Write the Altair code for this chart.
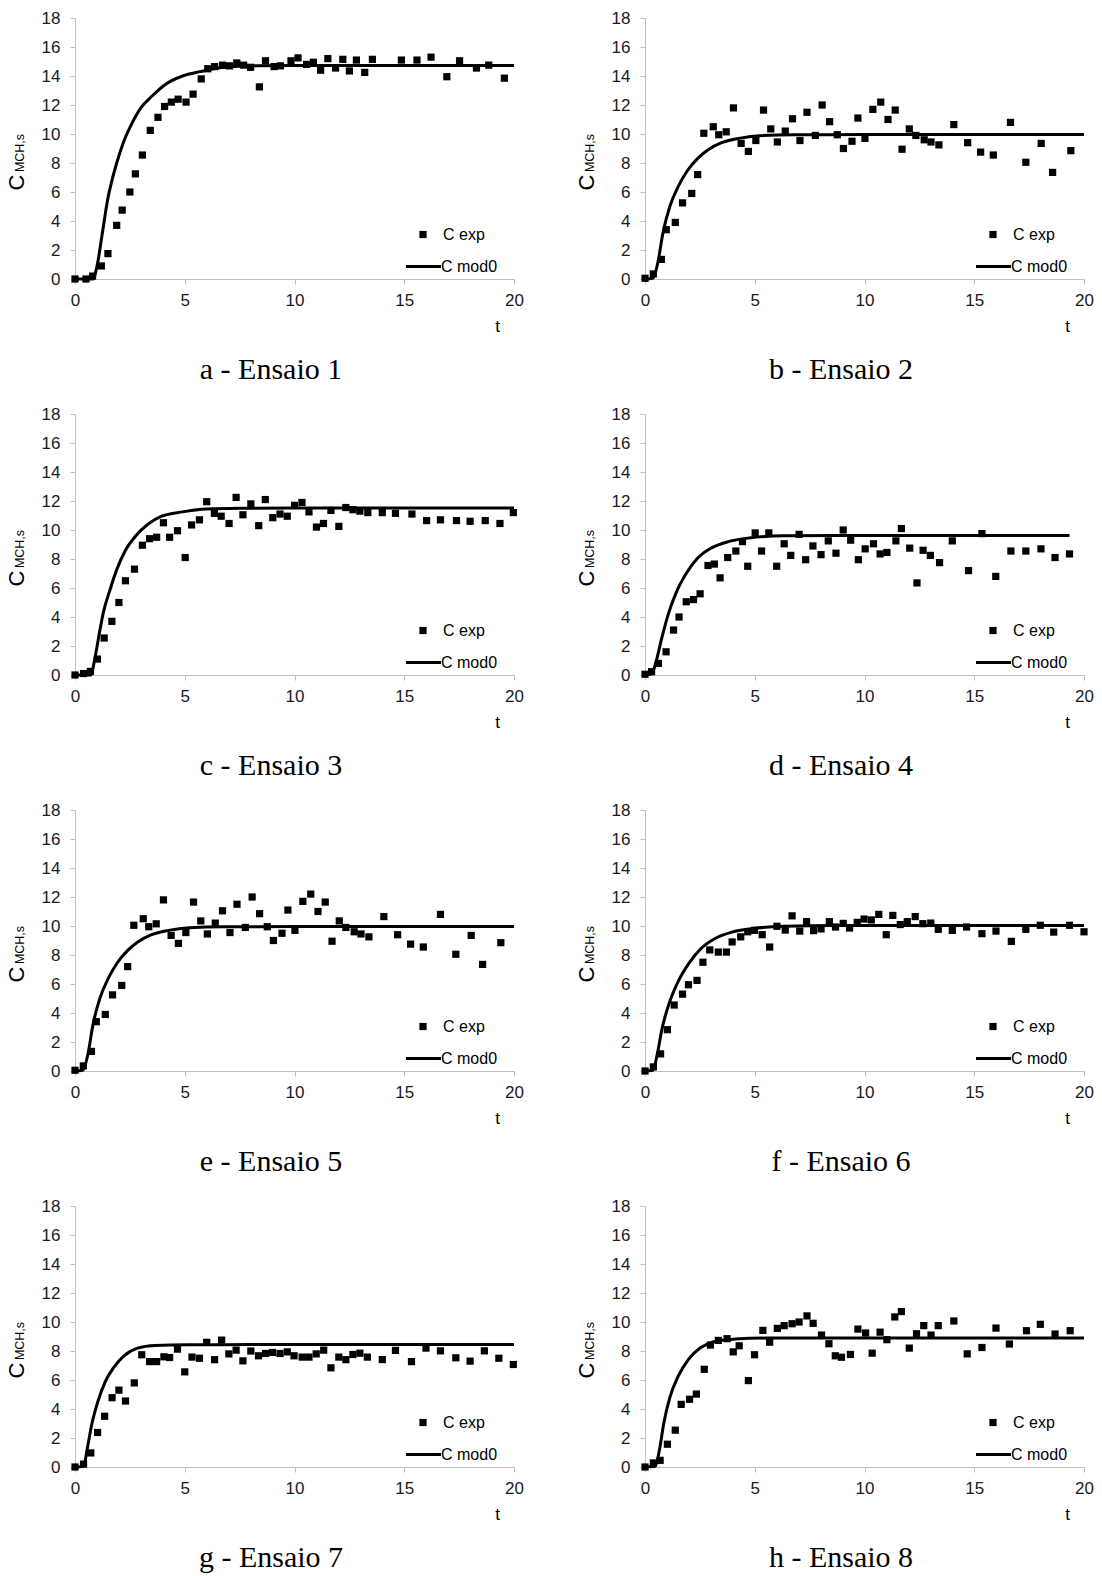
import altair as alt
import pandas as pd

# ---------------- data ----------------
# a - Ensaio 1
t_a = [0, 0.5, 0.8, 1.2, 1.5, 1.9, 2.15, 2.5, 2.75, 3.07, 3.43, 3.78, 4.08, 4.39, 4.7, 5.06, 5.38, 5.75, 6.05, 6.36,
       6.72, 7.04, 7.37, 7.68, 8.0, 8.4, 8.68, 9.07, 9.36, 9.84, 10.16, 10.55, 10.86, 11.19, 11.52, 11.87, 12.2, 12.5,
       12.82, 13.2, 13.55, 14.87, 15.58, 16.22, 16.94, 17.52, 18.29, 18.85, 19.56]
c_a = [0, 0, 0.2, 0.9, 1.75, 3.7, 4.75, 6.0, 7.25, 8.55, 10.25, 11.15, 11.9, 12.2, 12.4, 12.2, 12.75, 13.8, 14.5, 14.65,
       14.75, 14.7, 14.9, 14.75, 14.6, 13.25, 15.05, 14.65, 14.7, 15.05, 15.25, 14.8, 14.95, 14.4, 15.2, 14.55, 15.15,
       14.35, 15.1, 14.25, 15.15, 15.1, 15.1, 15.3, 13.95, 15.05, 14.55, 14.75, 13.85]
tm_a = [0, 0.82, 1.0, 1.25, 1.49, 1.7, 1.9, 2.2, 2.6, 3.0, 3.5, 4.1, 4.9, 5.7, 6.8, 8.3, 10, 20]
cm_a = [0, 0, 0.87, 3.2, 5.5, 6.9, 8.0, 9.4, 10.75, 11.8, 12.6, 13.4, 14.0, 14.3, 14.6, 14.7, 14.72, 14.72]

# b - Ensaio 2
t_b = [0, 0.38, 0.75, 0.97, 1.38, 1.71, 2.13, 2.4, 2.68, 3.11, 3.36, 3.7, 4.03, 4.38, 4.71, 5.05, 5.4, 5.73, 6.03, 6.39,
       6.72, 7.06, 7.38, 7.76, 8.07, 8.41, 8.76, 9.04, 9.43, 9.7, 10.02, 10.38, 10.74, 11.07, 11.4, 11.71, 12.04, 12.34,
       12.72, 13.03, 13.39, 14.07, 14.7, 15.29, 15.87, 16.65, 17.35, 18.05, 18.57, 19.4]
c_b = [0.05, 0.35, 1.35, 3.4, 3.9, 5.25, 5.9, 7.2, 10.05, 10.5, 9.95, 10.15, 11.8, 9.35, 8.8, 9.55, 11.65, 10.35, 9.45,
       10.2, 11.05, 9.55, 11.5, 9.9, 12.0, 10.85, 9.95, 9.0, 9.5, 11.1, 9.7, 11.7, 12.2, 11.0, 11.65, 8.95, 10.35, 9.9,
       9.6, 9.45, 9.25, 10.65, 9.4, 8.75, 8.55, 10.8, 8.05, 9.35, 7.35, 8.85]
tm_b = [0, 0.36, 0.58, 0.82, 1.13, 1.52, 1.92, 2.39, 2.86, 3.49, 4.27, 5.2, 6.8, 10, 20]
cm_b = [0, 0.05, 1.1, 3.2, 5.0, 6.4, 7.45, 8.3, 8.9, 9.4, 9.7, 9.88, 9.95, 9.96, 9.96]

# c - Ensaio 3
t_c = [0, 0.39, 0.7, 1.02, 1.33, 1.68, 2.0, 2.3, 2.71, 3.07, 3.4, 3.72, 4.03, 4.31, 4.67, 5.02, 5.31, 5.67, 6.0, 6.35,
       6.66, 7.02, 7.34, 7.65, 8.01, 8.37, 8.67, 9.01, 9.34, 9.67, 10.0, 10.34, 10.66, 11.0, 11.32, 11.66, 12.02, 12.34,
       12.66, 12.98, 13.34, 14.0, 14.6, 15.35, 16.02, 16.65, 17.38, 18.0, 18.69, 19.36, 19.97]
c_c = [0, 0.1, 0.25, 1.1, 2.55, 3.7, 5.0, 6.5, 7.3, 8.95, 9.4, 9.5, 10.5, 9.5, 9.95, 8.1, 10.35, 10.7, 11.95, 11.15,
       10.95, 10.45, 12.25, 11.05, 11.8, 10.3, 12.1, 10.85, 11.1, 10.95, 11.7, 11.9, 11.25, 10.2, 10.45, 11.35, 10.25,
       11.55, 11.4, 11.3, 11.2, 11.2, 11.15, 11.1, 10.65, 10.7, 10.65, 10.6, 10.65, 10.45, 11.2]
tm_c = [0, 0.72, 0.9, 1.1, 1.29, 1.6, 1.91, 2.3, 2.77, 3.32, 3.95, 4.89, 5.99, 7.55, 10, 20]
cm_c = [0, 0, 1.1, 2.8, 4.3, 5.9, 7.3, 8.6, 9.6, 10.4, 10.95, 11.25, 11.45, 11.5, 11.52, 11.52]

# d - Ensaio 4
t_d = [0, 0.3, 0.61, 0.96, 1.3, 1.55, 1.88, 2.21, 2.51, 2.87, 3.16, 3.42, 3.77, 4.14, 4.44, 4.68, 5.02, 5.31, 5.64, 6.0,
       6.34, 6.64, 7.02, 7.32, 7.65, 8.02, 8.35, 8.7, 9.03, 9.37, 9.72, 10.03, 10.41, 10.71, 11.02, 11.43, 11.68, 12.06,
       12.39, 12.67, 13.0, 13.42, 14.0, 14.74, 15.35, 15.98, 16.67, 17.35, 18.04, 18.68, 19.34]
c_d = [0.05, 0.23, 0.8, 1.6, 3.1, 4.0, 5.05, 5.2, 5.6, 7.55, 7.65, 6.7, 8.1, 8.55, 9.2, 7.5, 9.8, 8.55, 9.8, 7.5, 9.05,
       8.25, 9.7, 7.95, 8.9, 8.3, 9.25, 8.4, 10.0, 9.3, 7.95, 8.7, 9.05, 8.35, 8.45, 9.25, 10.1, 8.75, 6.35, 8.6, 8.25,
       7.75, 9.25, 7.2, 9.75, 6.8, 8.55, 8.55, 8.7, 8.1, 8.35]
tm_d = [0, 0.31, 0.5, 0.74, 1.05, 1.44, 1.92, 2.39, 3.01, 3.8, 4.74, 6.31, 9, 19.34]
cm_d = [0, 0.1, 0.9, 2.4, 4.15, 5.75, 7.1, 8.05, 8.75, 9.2, 9.45, 9.6, 9.62, 9.62]

# e - Ensaio 5 (same points as plotted in the reference for Ensaio 2)
t_e = [0, 0.38, 0.75, 0.97, 1.38, 1.71, 2.13, 2.4, 2.68, 3.11, 3.36, 3.7, 4.03, 4.38, 4.71, 5.05, 5.4, 5.73, 6.03, 6.39,
       6.72, 7.06, 7.38, 7.76, 8.07, 8.41, 8.76, 9.04, 9.43, 9.7, 10.02, 10.38, 10.74, 11.07, 11.4, 11.71, 12.04, 12.34,
       12.72, 13.03, 13.39, 14.07, 14.7, 15.29, 15.87, 16.65, 17.35, 18.05, 18.57, 19.4]
c_e = [0.05, 0.35, 1.35, 3.4, 3.9, 5.25, 5.9, 7.2, 10.05, 10.5, 9.95, 10.15, 11.8, 9.35, 8.8, 9.55, 11.65, 10.35, 9.45,
       10.2, 11.05, 9.55, 11.5, 9.9, 12.0, 10.85, 9.95, 9.0, 9.5, 11.1, 9.7, 11.7, 12.2, 11.0, 11.65, 8.95, 10.35, 9.9,
       9.6, 9.45, 9.25, 10.65, 9.4, 8.75, 8.55, 10.8, 8.05, 9.35, 7.35, 8.85]
tm_e = [0, 0.36, 0.58, 0.82, 1.13, 1.52, 1.92, 2.39, 2.86, 3.49, 4.27, 5.2, 6.8, 10, 20]
cm_e = [0, 0.05, 1.1, 3.2, 5.0, 6.4, 7.45, 8.3, 8.9, 9.4, 9.7, 9.88, 9.95, 9.96, 9.96]

# f - Ensaio 6
t_f = [0, 0.38, 0.71, 1.02, 1.33, 1.71, 1.98, 2.37, 2.64, 2.95, 3.34, 3.71, 3.97, 4.36, 4.68, 4.99, 5.34, 5.68, 6.01,
       6.39, 6.7, 7.05, 7.36, 7.68, 8.02, 8.4, 8.68, 9.03, 9.32, 9.67, 9.98, 10.31, 10.65, 10.99, 11.29, 11.63, 11.95,
       12.31, 12.66, 13.02, 13.36, 14.0, 14.65, 15.35, 15.99, 16.69, 17.35, 18.01, 18.62, 19.34, 20.0]
c_f = [0, 0.28, 1.18, 2.85, 4.55, 5.3, 5.95, 6.25, 7.5, 8.35, 8.2, 8.2, 8.9, 9.25, 9.6, 9.7, 9.4, 8.55, 9.98, 9.72,
       10.7, 9.65, 10.3, 9.68, 9.8, 10.3, 9.93, 10.18, 9.86, 10.25, 10.48, 10.42, 10.8, 9.4, 10.73, 10.1, 10.3, 10.65,
       10.16, 10.2, 9.77, 9.7, 9.93, 9.47, 9.65, 8.94, 9.77, 10.05, 9.58, 10.05, 9.6]
tm_f = [0, 0.36, 0.55, 0.78, 1.13, 1.52, 1.99, 2.54, 3.17, 3.96, 4.9, 6.31, 8.67, 20]
cm_f = [0, 0.05, 1.1, 2.95, 4.8, 6.2, 7.4, 8.43, 9.12, 9.58, 9.82, 9.98, 10.03, 10.03]

# g - Ensaio 7
t_g = [0, 0.39, 0.72, 1.03, 1.35, 1.69, 2.0, 2.3, 2.7, 3.04, 3.4, 3.72, 4.05, 4.31, 4.67, 5.0, 5.33, 5.67, 6.0, 6.36,
       6.68, 7.01, 7.34, 7.65, 8.01, 8.36, 8.68, 9.0, 9.34, 9.67, 9.98, 10.35, 10.66, 10.99, 11.33, 11.66, 12.02, 12.34,
       12.66, 12.98, 13.32, 14.0, 14.6, 15.33, 15.99, 16.65, 17.35, 18.0, 18.65, 19.31, 19.97]
c_g = [0, 0.2, 0.97, 2.38, 3.5, 4.78, 5.3, 4.55, 5.8, 7.74, 7.27, 7.27, 7.6, 7.55, 8.13, 6.56, 7.58, 7.5, 8.6, 7.4,
       8.75, 7.8, 8.06, 7.32, 8.0, 7.67, 7.83, 7.9, 7.83, 7.94, 7.67, 7.58, 7.58, 7.8, 8.06, 6.84, 7.58, 7.4, 7.76,
       7.85, 7.58, 7.41, 8.04, 7.27, 8.2, 8.01, 7.53, 7.3, 8.01, 7.5, 7.07]
tm_g = [0, 0.4, 0.55, 0.78, 1.05, 1.36, 1.76, 2.23, 2.85, 3.64, 5.2, 8, 20]
cm_g = [0, 0.05, 1.2, 3.05, 4.55, 5.82, 6.86, 7.67, 8.2, 8.38, 8.43, 8.44, 8.44]

# h - Ensaio 8
t_h = [0, 0.38, 0.69, 1.02, 1.38, 1.65, 2.03, 2.34, 2.7, 2.98, 3.34, 3.74, 4.02, 4.29, 4.71, 4.99, 5.37, 5.68, 6.03,
       6.34, 6.7, 7.02, 7.38, 7.66, 8.04, 8.38, 8.67, 8.95, 9.36, 9.7, 10.05, 10.35, 10.71, 11.02, 11.38, 11.68, 12.04,
       12.37, 12.7, 13.03, 13.36, 14.07, 14.68, 15.35, 15.99, 16.6, 17.38, 18.01, 18.68, 19.37]
c_h = [0, 0.28, 0.46, 1.57, 2.54, 4.32, 4.67, 5.03, 6.74, 8.41, 8.73, 8.85, 7.94, 8.36, 5.96, 7.74, 9.42, 8.61, 9.56,
       9.75, 9.88, 10.0, 10.42, 9.91, 9.1, 8.5, 7.67, 7.57, 7.76, 9.51, 9.24, 7.85, 9.3, 8.78, 10.35, 10.72, 8.2, 9.19,
       9.75, 9.1, 9.75, 10.07, 7.8, 8.24, 9.58, 8.48, 9.4, 9.84, 9.17, 9.4]
tm_h = [0, 0.47, 0.66, 0.86, 1.13, 1.52, 1.99, 2.54, 3.17, 4.11, 5.53, 8, 20]
cm_h = [0, 0.05, 1.2, 3.05, 4.78, 6.28, 7.44, 8.24, 8.66, 8.82, 8.89, 8.9, 8.9]

captions = ["a - Ensaio 1", "b - Ensaio 2", "c - Ensaio 3", "d - Ensaio 4",
            "e - Ensaio 5", "f - Ensaio 6", "g - Ensaio 7", "h - Ensaio 8"]
x_ticks = [0, 5, 10, 15, 20]
y_ticks = [0, 2, 4, 6, 8, 10, 12, 14, 16, 18]
legend_labels = ["C exp", "C mod0"]

# ---------------- layout / style ----------------
PW, PH = 439, 261
SANS = "Liberation Sans"
SERIF = "Liberation Serif"


def txt(s, x, y, size, font=SANS, align="left", angle=0):
    return alt.Chart(pd.DataFrame({"s": [s]})).mark_text(
        font=font, fontSize=size, align=align, baseline="middle", angle=angle, color="black"
    ).encode(x=alt.value(x), y=alt.value(y), text="s:N")


def panel(t_exp, c_exp, t_mod, c_mod, caption):
    exp_df = pd.DataFrame({"t": t_exp, "c": c_exp})
    mod_df = pd.DataFrame({"t": t_mod, "c": c_mod})
    xs = alt.Scale(domain=[0, 20], nice=False, zero=False)
    ys = alt.Scale(domain=[0, 18], nice=False)
    xax = alt.Axis(values=x_ticks, title=None, labelPadding=8, labelFlush=False, labelOverlap=False)
    yax = alt.Axis(values=y_ticks, title=None, labelPadding=10, labelOverlap=False)
    line = alt.Chart(mod_df).mark_line(color="black", strokeWidth=3, interpolate="monotone").encode(
        x=alt.X("t:Q", scale=xs, axis=xax),
        y=alt.Y("c:Q", scale=ys, axis=yax),
    )
    pts = alt.Chart(exp_df).mark_square(size=52, color="black", opacity=1).encode(
        x=alt.X("t:Q", scale=xs, axis=xax),
        y=alt.Y("c:Q", scale=ys, axis=yax),
    )
    leg_sq = alt.Chart(pd.DataFrame({"s": [0]})).mark_square(size=52, color="black", opacity=1).encode(
        x=alt.value(348), y=alt.value(216.5))
    leg_ln = alt.Chart(pd.DataFrame({"s": [0]})).mark_rule(color="black", strokeWidth=3).encode(
        x=alt.value(331), x2=alt.value(366), y=alt.value(248.5))
    anchor = alt.Chart(pd.DataFrame({"s": [0]})).mark_rule(opacity=0, strokeWidth=1).encode(
        x=alt.value(-74.9), x2=alt.value(-74), y=alt.value(-17.6))
    layers = [
        pts, line, anchor, leg_sq, leg_ln,
        txt(legend_labels[0], 368, 216.5, 16),
        txt(legend_labels[1], 366, 248.5, 16),
        txt("C", -58, 164.5, 22, align="center", angle=270),
        txt("MCH,s", -55.5, 135, 12.5, align="center", angle=270),
        txt("t", 422.5, 309, 17, align="center"),
        txt(caption, 196, 352, 30, font=SERIF, align="center"),
    ]
    return alt.layer(*layers).properties(width=PW, height=PH)


panels = [
    panel(t_a, c_a, tm_a, cm_a, captions[0]),
    panel(t_b, c_b, tm_b, cm_b, captions[1]),
    panel(t_c, c_c, tm_c, cm_c, captions[2]),
    panel(t_d, c_d, tm_d, cm_d, captions[3]),
    panel(t_e, c_e, tm_e, cm_e, captions[4]),
    panel(t_f, c_f, tm_f, cm_f, captions[5]),
    panel(t_g, c_g, tm_g, cm_g, captions[6]),
    panel(t_h, c_h, tm_h, cm_h, captions[7]),
]

chart = alt.concat(
    *panels, columns=2, spacing={"row": 135, "column": 131}, bounds="flush"
).properties(
    padding={"left": 0, "top": 0, "right": 4, "bottom": 4}, background="white"
).configure_view(stroke=None).configure_axis(
    domainColor="#bfbfbf", domainWidth=1, tickColor="#bfbfbf", tickSize=5, tickWidth=1,
    labelFont=SANS, labelFontSize=17, labelColor="#1a1a1a", grid=False, labelOverlap=False,
)

chart.save("out.html", embed_options={"renderer": "svg", "actions": False})
